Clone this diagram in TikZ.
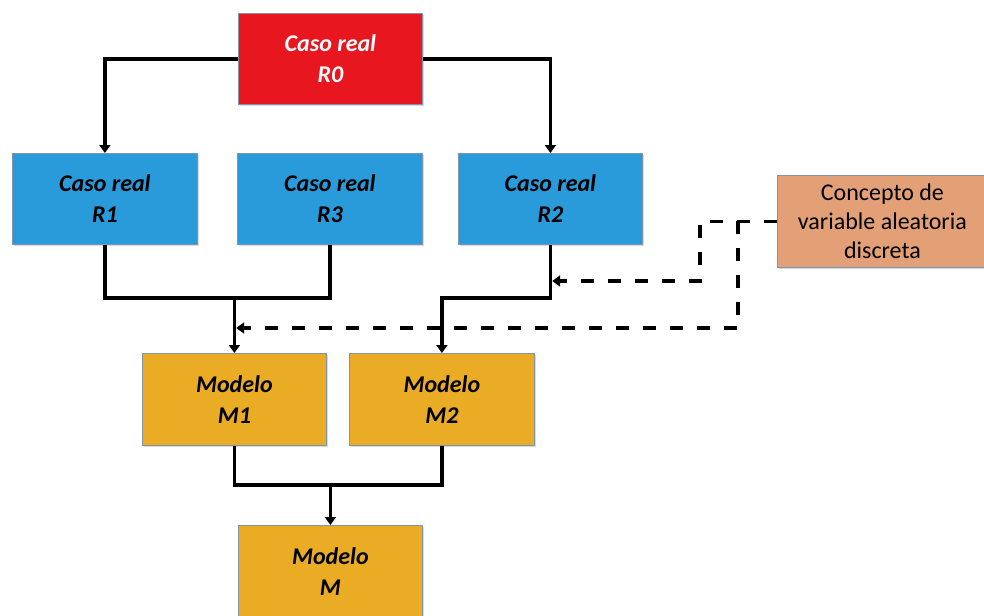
\documentclass[tikz,border=0pt]{standalone}
\usepackage{fontspec}
\setmainfont{Carlito}
\usetikzlibrary{arrows.meta,shadows}
\definecolor{redbox}{HTML}{E8161E}
\definecolor{bluebox}{HTML}{299BDA}
\definecolor{yellowbox}{HTML}{E9AC24}
\definecolor{salmonbox}{HTML}{E3A077}
\definecolor{boxline}{HTML}{7E97B0}
\begin{document}
\begin{tikzpicture}[x=1pt,y=-1pt,
  box/.style={draw=boxline, line width=0.8pt, inner sep=0pt, align=center,
    anchor=north west, font=\fontsize{24}{31}\selectfont\bfseries\itshape,
    drop shadow={shadow xshift=1.5pt, shadow yshift=-1.5pt, opacity=0.3}},
  conn/.style={line width=3.6pt},
  arr/.style={-{Triangle[length=8pt,width=11pt]}},
  dashline/.style={line width=3.6pt, dash pattern=on 13pt off 14pt}]
\useasboundingbox (0,0) rectangle (984,615);

\node[box, fill=redbox, text=white, minimum width=184pt, minimum height=91pt] (R0) at (238,13) {Caso real\\R0};
\node[box, fill=bluebox, minimum width=185pt, minimum height=91pt] (R1) at (12,153) {Caso real\\R1};
\node[box, fill=bluebox, minimum width=185pt, minimum height=91pt] (R3) at (237,153) {Caso real\\R3};
\node[box, fill=bluebox, minimum width=184pt, minimum height=91pt] (R2) at (458,153) {Caso real\\R2};
\node[box, fill=salmonbox, minimum width=210pt, minimum height=92pt,
  font=\fontsize{24}{29}\selectfont] (C) at (777,175) {Concepto de\\variable aleatoria\\discreta};
\node[box, fill=yellowbox, minimum width=184pt, minimum height=92pt] (M1) at (142,353) {Modelo\\M1};
\node[box, fill=yellowbox, minimum width=185pt, minimum height=92pt] (M2) at (349,353) {Modelo\\M2};
\node[box, fill=yellowbox, minimum width=184pt, minimum height=92pt] (M) at (238,525) {Modelo\\M};

\coordinate (bus1) at (0,298);
\coordinate (bus2) at (0,485);
\coordinate (k1) at (700,281);
\coordinate (k2) at (738,328);

\draw[conn,arr] (R0.west) -| (R1.north);
\draw[conn,arr] (R0.east) -| (R2.north);
\draw[conn] (R1.south) |- (R3.south |- bus1) -- (R3.south);
\draw[conn,arr] (M1.north |- bus1) -- (M1.north);
\draw[conn,arr] (R2.south) |- (M2.north |- bus1) -- (M2.north);
\draw[conn] (M1.south) |- (M2.south |- bus2) -- (M2.south);
\draw[conn,arr] (M.north |- bus2) -- (M.north);

\draw[dashline,arr,shorten >=1.8pt] (C.west) -| (k1) -- (R2.south |- k1);
\draw[dashline,arr,shorten >=1.8pt] (C.west -| k2) |- (M1.north |- k2);
\end{tikzpicture}
\end{document}
